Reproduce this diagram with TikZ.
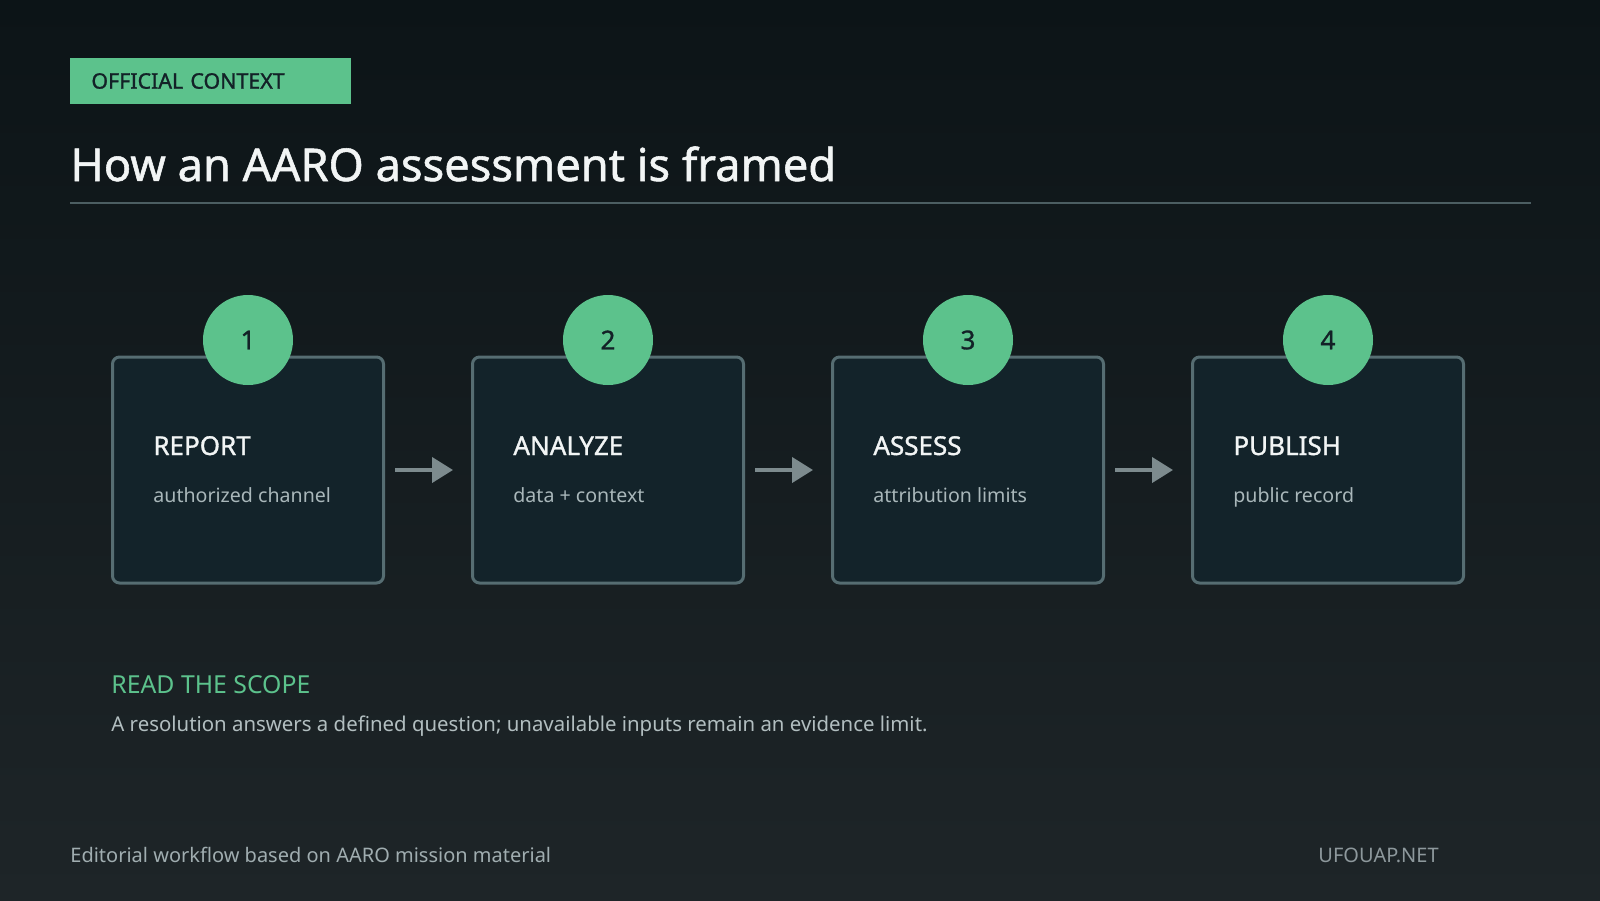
\documentclass[tikz,border=0pt]{standalone}
\usepackage{fontspec}
\setmainfont{Noto Sans}
\usetikzlibrary{arrows.meta,positioning}
\definecolor{bgtop}{HTML}{0C1417}
\definecolor{bgbot}{HTML}{1E2528}
\definecolor{accent}{HTML}{5CC28C}
\definecolor{tagtext}{HTML}{132127}
\definecolor{titletext}{HTML}{F2F5F5}
\definecolor{rulecol}{HTML}{4C5E62}
\definecolor{boxfill}{HTML}{13232A}
\definecolor{boxedge}{HTML}{566D72}
\definecolor{subtext}{HTML}{A9B7BA}
\definecolor{arrowcol}{HTML}{7D8B8E}
\definecolor{bodytext}{HTML}{B2BEC0}
\definecolor{foottext}{HTML}{A0ADB0}
\newfontfamily\semibold{Noto Sans}[FakeBold=1.2]
\tikzset{
  tag/.style={fill=accent, text=tagtext, font=\semibold\fontsize{10.7}{13}\selectfont,
    minimum height=23pt, text width=119.5pt, inner xsep=10.5pt, align=left},
  pagetitle/.style={font=\semibold\fontsize{22.6}{27}\selectfont, text=titletext, inner sep=0pt},
  stepbox/.style={draw=boxedge, line width=1.5pt, rounded corners=3.5pt, fill=boxfill,
    minimum width=135.5pt, minimum height=113pt, inner sep=0pt},
  badge/.style={circle, fill=accent, minimum size=45pt, inner sep=0pt,
    font=\semibold\fontsize{13}{15}\selectfont, text=tagtext},
  steptitle/.style={font=\semibold\fontsize{13}{15}\selectfont, text=titletext, inner sep=0pt, anchor=base west},
  stepsub/.style={font=\fontsize{9.8}{12}\selectfont, text=subtext, inner sep=0pt, anchor=base west},
  flow/.style={-{Triangle[length=10.5pt, width=12.5pt]}, line width=2pt, draw=arrowcol,
    shorten <=5pt, shorten >=9pt},
  scopehead/.style={font=\fontsize{12.4}{15}\selectfont, text=accent, inner sep=0pt, anchor=base west},
  scopebody/.style={font=\fontsize{10.2}{13}\selectfont, text=bodytext, inner sep=0pt, anchor=base west},
  foot/.style={font=\fontsize{10}{12}\selectfont, text=foottext, inner sep=0pt},
}

\begin{document}
\begin{tikzpicture}[x=0.5pt, y=-0.5pt]

\shade[top color=bgtop, bottom color=bgbot] (0,0) rectangle (1600,900);
\useasboundingbox (0,0) rectangle (1600,900);

%% header
\node[tag, anchor=west] (tag) at (70,81) {OFFICIAL CONTEXT};
\node[pagetitle, anchor=base west] (title) at (70,181) {How an AARO assessment is framed};
\draw[rulecol, line width=1pt] (70,203) -- (1531,203);

%% steps
\node[stepbox] (b_report) at (248,470) {};
\node[stepbox, right=43pt of b_report] (b_analyze) {};
\node[stepbox, right=43pt of b_analyze] (b_assess) {};
\node[stepbox, right=43pt of b_assess] (b_publish) {};

\node[badge] (n_report) at (b_report.north |- 0,340) {1};
\node[badge] (n_analyze) at (b_analyze.north |- 0,340) {2};
\node[badge] (n_assess) at (b_assess.north |- 0,340) {3};
\node[badge] (n_publish) at (b_publish.north |- 0,340) {4};

\node[steptitle] (t_report) at (153,455) {REPORT};
\node[stepsub] (s_report) at (153,502) {authorized channel};
\node[steptitle] (t_analyze) at (513,455) {ANALYZE};
\node[stepsub] (s_analyze) at (513,502) {data + context};
\node[steptitle] (t_assess) at (873,455) {ASSESS};
\node[stepsub] (s_assess) at (873,502) {attribution limits};
\node[steptitle] (t_publish) at (1233,455) {PUBLISH};
\node[stepsub] (s_publish) at (1233,502) {public record};

\draw[flow] (b_report) -- (b_analyze);
\draw[flow] (b_analyze) -- (b_assess);
\draw[flow] (b_assess) -- (b_publish);

%% scope note
\node[scopehead] (scope) at (111,693) {READ THE SCOPE};
\node[scopebody] (scopetext) at (111,731) {A resolution answers a defined question; unavailable inputs remain an evidence limit.};

%% footer
\node[foot, anchor=base west] (source) at (70,862) {Editorial workflow based on AARO mission material};
\node[foot, anchor=base east, text=foottext!85!bgbot] (site) at (1439,862) {UFOUAP.NET};

\end{tikzpicture}
\end{document}
